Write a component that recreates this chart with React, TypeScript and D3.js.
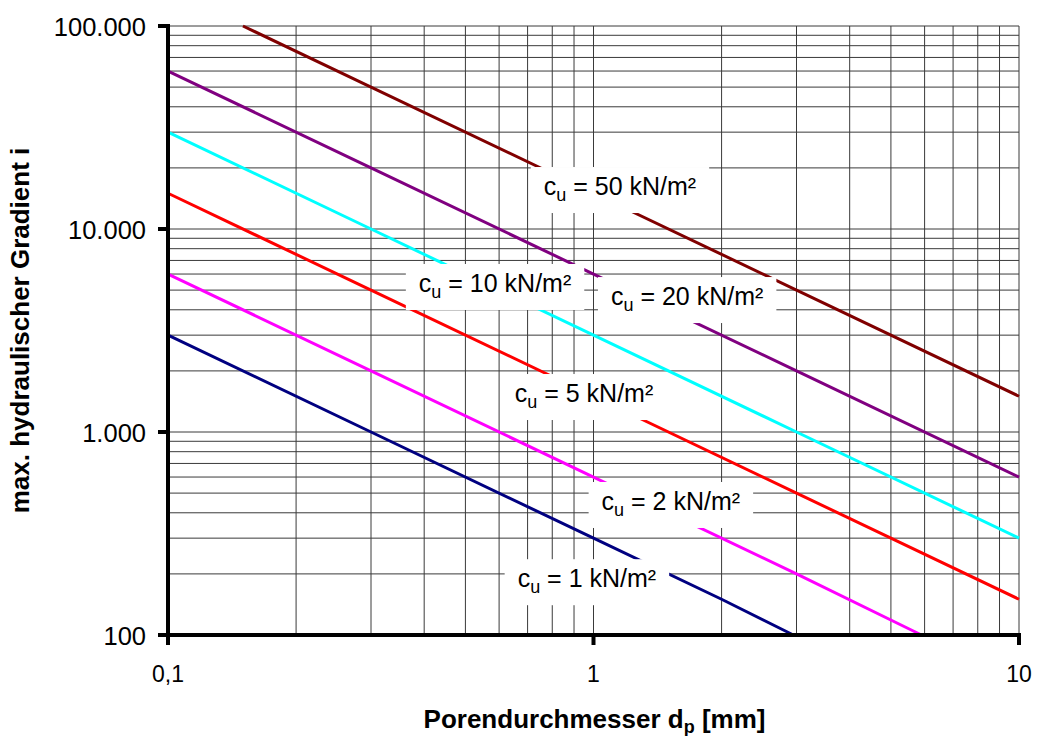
import { useEffect, useRef } from "react";
import * as d3 from "d3";

// ─── Data ────────────────────────────────────────────────────────────────────

const SERIES_NAMES = ["1", "2", "5", "10", "20", "50"];
const SERIES_COLORS = ["#000080", "#FF00FF", "#FF0000", "#00FFFF", "#800080", "#800000"];

// pore diameter d_p [mm] and max. hydraulic gradient i for each curve
const DP_CU1 = [0.1, 0.3, 1, 2, 2.95];
const I_CU1 = [3000, 1000, 300, 150, 100];
const DP_CU2 = [0.1, 0.3, 1, 3, 5.9];
const I_CU2 = [6000, 2000, 600, 200, 100];
const DP_CU5 = [0.1, 0.3, 1, 3, 10];
const I_CU5 = [15000, 5000, 1500, 500, 150];
const DP_CU10 = [0.1, 0.3, 1, 3, 10];
const I_CU10 = [30000, 10000, 3000, 1000, 300];
const DP_CU20 = [0.1, 0.3, 1, 3, 10];
const I_CU20 = [60000, 20000, 6000, 2000, 600];
const DP_CU50 = [0.15, 0.3, 1, 3, 10];
const I_CU50 = [100000, 50000, 15000, 5000, 1500];

const DP_ALL = [DP_CU1, DP_CU2, DP_CU5, DP_CU10, DP_CU20, DP_CU50];
const I_ALL = [I_CU1, I_CU2, I_CU5, I_CU10, I_CU20, I_CU50];

// label anchors (centre of the label, in data units)
const LABEL_DP = [0.965, 1.52, 0.95, 0.587, 1.66, 1.154];
const LABEL_I = [182, 437, 1487, 5180, 4467, 15560];

const X_TICKS = [0.1, 1, 10];
const X_TICK_LABELS = ["0,1", "1", "10"];
const Y_TICKS = [100, 1000, 10000, 100000];
const Y_TICK_LABELS = ["100", "1.000", "10.000", "100.000"];

const FONT = "Arial, 'Liberation Sans', Helvetica, sans-serif";

export default function App() {
  const svgRef = useRef<SVGSVGElement>(null);

  useEffect(() => {
    if (!svgRef.current) return;
    const W = 1037,
      H = 736;
    const m = { left: 168, right: 1019, top: 26, bottom: 635 };

    const svg = d3.select(svgRef.current);
    svg.selectAll("*").remove();
    svg.attr("width", W).attr("height", H).attr("viewBox", `0 0 ${W} ${H}`);

    const x = d3.scaleLog().domain([0.1, 10]).range([m.left, m.right]);
    const y = d3.scaleLog().domain([100, 100000]).range([m.bottom, m.top]);

    svg.append("rect").attr("width", W).attr("height", H).attr("fill", "#fff");

    // ── Grid ──────────────────────────────────────────────────────────────────
    const grid = svg.append("g").attr("stroke", "#3a3a3a").attr("stroke-width", 1);
    const xGrid = x.ticks().filter((v) => v > 0.1 + 1e-9);
    const yGrid = y.ticks();
    grid
      .selectAll("line.v")
      .data(xGrid)
      .enter()
      .append("line")
      .attr("x1", (d) => x(d))
      .attr("x2", (d) => x(d))
      .attr("y1", m.top)
      .attr("y2", m.bottom);
    grid
      .selectAll("line.h")
      .data(yGrid)
      .enter()
      .append("line")
      .attr("x1", m.left)
      .attr("x2", m.right)
      .attr("y1", (d) => y(d))
      .attr("y2", (d) => y(d));

    // ── Curves ────────────────────────────────────────────────────────────────
    const line = d3
      .line<[number, number]>()
      .x((d) => x(d[0]))
      .y((d) => y(d[1]));
    SERIES_NAMES.forEach((_, si) => {
      const pts: [number, number][] = DP_ALL[si].map((dp, k) => [dp, I_ALL[si][k]]);
      svg
        .append("path")
        .attr("d", line(pts)!)
        .attr("fill", "none")
        .attr("stroke", SERIES_COLORS[si])
        .attr("stroke-width", 3);
    });

    // ── Labels with white boxes ──────────────────────────────────────────────
    SERIES_NAMES.forEach((name, si) => {
      const cx = x(LABEL_DP[si]);
      const cy = y(LABEL_I[si]);
      const lg = svg.append("g");
      const box = lg.append("rect").attr("fill", "#fff");
      const t = lg
        .append("text")
        .attr("x", cx)
        .attr("y", cy + 5)
        .attr("text-anchor", "middle")
        .attr("font-family", FONT)
        .attr("font-size", 25)
        .attr("fill", "#000");
      t.append("tspan").text("c");
      t.append("tspan").attr("font-size", 18).attr("dy", 6).text("u");
      t.append("tspan").attr("dy", -6).text(` = ${name} kN/m²`);
      const bb = (t.node() as SVGTextElement).getBBox();
      const padX = 13;
      box
        .attr("x", bb.x - padX)
        .attr("y", cy - 23)
        .attr("width", bb.width + padX * 2)
        .attr("height", 46);
    });

    // ── Axes ──────────────────────────────────────────────────────────────────
    const ax = svg.append("g").attr("stroke", "#000").attr("stroke-width", 4);
    ax.append("line")
      .attr("x1", m.left)
      .attr("x2", m.left)
      .attr("y1", m.top - 2)
      .attr("y2", m.bottom + 2);
    ax.append("line")
      .attr("x1", m.left - 2)
      .attr("x2", m.right + 2)
      .attr("y1", m.bottom)
      .attr("y2", m.bottom);
    ax.selectAll("line.yt")
      .data(Y_TICKS)
      .enter()
      .append("line")
      .attr("x1", m.left - 10)
      .attr("x2", m.left)
      .attr("y1", (d) => y(d))
      .attr("y2", (d) => y(d));
    ax.selectAll("line.xt")
      .data(X_TICKS)
      .enter()
      .append("line")
      .attr("x1", (d) => x(d))
      .attr("x2", (d) => x(d))
      .attr("y1", m.bottom)
      .attr("y2", m.bottom + 10);

    svg
      .selectAll("text.yl")
      .data(Y_TICKS)
      .enter()
      .append("text")
      .attr("x", 146)
      .attr("y", (d) => y(d) + 10)
      .attr("text-anchor", "end")
      .attr("font-family", FONT)
      .attr("font-size", 25.5)
      .text((_, i) => Y_TICK_LABELS[i]);

    svg
      .selectAll("text.xl")
      .data(X_TICKS)
      .enter()
      .append("text")
      .attr("x", (d) => x(d))
      .attr("y", 682)
      .attr("text-anchor", "middle")
      .attr("font-family", FONT)
      .attr("font-size", 23)
      .text((_, i) => X_TICK_LABELS[i]);

    // Axis titles
    const xt = svg
      .append("text")
      .attr("x", (m.left + m.right) / 2 + 1)
      .attr("y", 728)
      .attr("text-anchor", "middle")
      .attr("font-family", FONT)
      .attr("font-weight", "bold")
      .attr("font-size", 26)
      .attr("fill", "#000");
    xt.append("tspan").text("Porendurchmesser d");
    xt.append("tspan").attr("font-size", 18).attr("dy", 5).text("p");
    xt.append("tspan").attr("dy", -5).text(" [mm]");

    svg
      .append("text")
      .attr("transform", `translate(29,${(m.top + m.bottom) / 2}) rotate(-90)`)
      .attr("text-anchor", "middle")
      .attr("font-family", FONT)
      .attr("font-weight", "bold")
      .attr("font-size", 26)
      .text("max. hydraulischer Gradient i");
  }, []);

  return (
    <svg
      ref={svgRef}
      style={{ position: "absolute", left: 0, top: 0, display: "block" }}
    />
  );
}
